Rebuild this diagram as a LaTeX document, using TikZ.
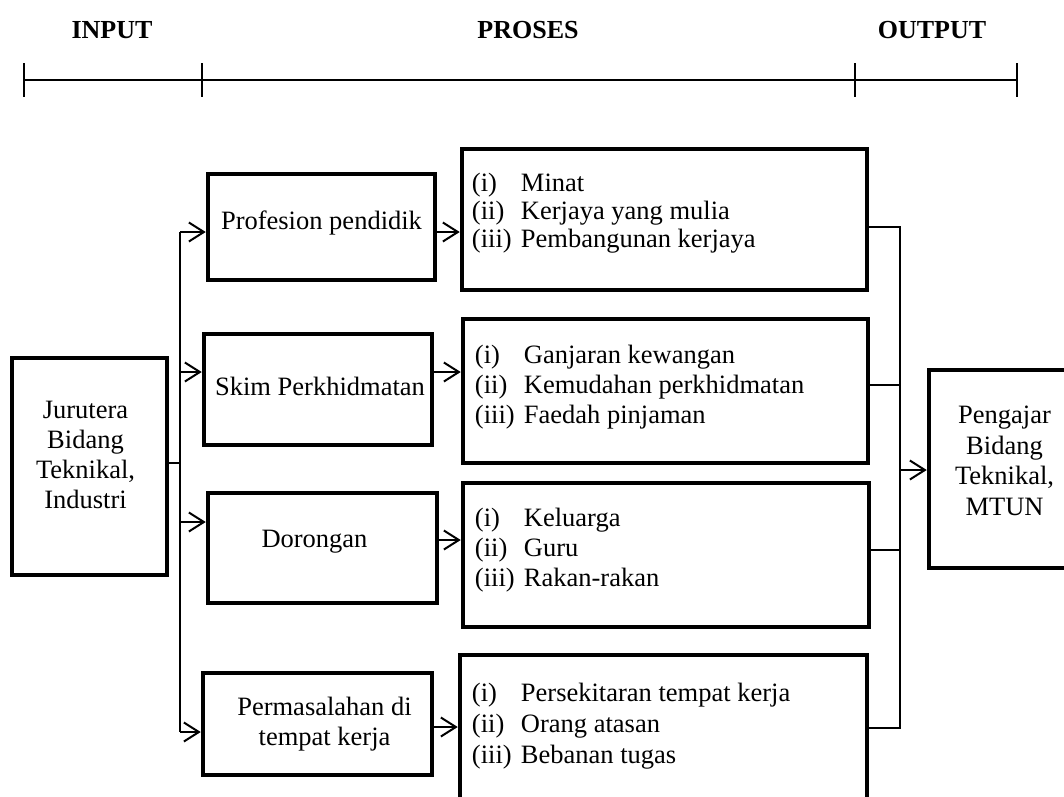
\documentclass[tikz,border=0pt]{standalone}
\usepackage{fontspec}
\setmainfont{Liberation Serif}
\usetikzlibrary{arrows.meta}
\begin{document}
\begin{tikzpicture}[x=1pt,y=-1pt,
  thickbox/.style={draw, line width=4.5pt, inner sep=0pt, line join=miter},
  conn/.style={line width=2pt},
  arr/.style={line width=2pt, -{Straight Barb[length=15pt,width=19pt]}},
  txt/.style={inner sep=0pt, font=\fontsize{26.5}{30}\selectfont, align=center},
  lst/.style={inner sep=0pt, font=\fontsize{26.5}{30}\selectfont, align=left, anchor=west},
  hdr/.style={inner sep=0pt, font=\fontsize{26}{30}\selectfont\bfseries, anchor=base}]
\clip (0,0) rectangle (1064,796);
\fill[white] (0,0) rectangle (1064,796);

% headers and timeline
\node[hdr] (hin) at (112,38) {INPUT};
\node[hdr] (hpr) at (528,38) {PROSES};
\node[hdr] (hout) at (932,38) {OUTPUT};
\coordinate (T1) at (24,80);
\coordinate (T2) at (202,80);
\coordinate (T3) at (855,80);
\coordinate (T4) at (1017,80);
\draw[conn] (T1) -- (T4);
\foreach \t in {T1,T2,T3,T4}{
  \draw[conn] ([yshift=17pt]\t) -- ([yshift=-17pt]\t);
}

% boxes
\node[thickbox, minimum width=155pt, minimum height=217pt] (in) at (89.5,466.5) {};
\node[thickbox, minimum width=227pt, minimum height=106pt] (b1) at (321.5,227) {};
\node[thickbox, minimum width=228pt, minimum height=111pt] (b2) at (318,389.5) {};
\node[thickbox, minimum width=229pt, minimum height=110pt] (b3) at (322.5,548) {};
\node[thickbox, minimum width=229pt, minimum height=102pt] (b4) at (317.5,724) {};
\node[thickbox, minimum width=405pt, minimum height=141pt] (l1) at (664.5,219.5) {};
\node[thickbox, minimum width=405pt, minimum height=144pt] (l2) at (665.5,391) {};
\node[thickbox, minimum width=406pt, minimum height=144pt] (l3) at (666,555) {};
\node[thickbox, minimum width=407pt, minimum height=155pt] (l4) at (663.5,732.5) {};
\node[thickbox, minimum width=151pt, minimum height=198pt] (out) at (1004.5,469) {};

% texts
\node[txt] (tin) at ([xshift=-4pt,yshift=12pt]in.center) {Jurutera\\Bidang\\Teknikal,\\Industri};
\node[txt] (tb1) at ([yshift=4pt]b1.center) {Profesion pendidik};
\node[txt] (tb2) at ([xshift=2pt,yshift=3pt]b2.center) {Skim Perkhidmatan};
\node[txt] (tb3) at ([xshift=-8pt,yshift=6pt]b3.center) {Dorongan};
\node[txt] (tb4) at ([xshift=7pt]b4.center) {Permasalahan di\\tempat kerja};
\node[txt, font=\fontsize{26.5}{30.5}\selectfont] (tout) at ([yshift=8pt]out.center) {Pengajar\\Bidang\\Teknikal,\\MTUN};

\node[lst, font=\fontsize{26.5}{28}\selectfont] (tl1) at ([xshift=12pt,yshift=6.5pt]l1.west)
  {\makebox[49pt][l]{(i)}Minat\\\makebox[49pt][l]{(ii)}Kerjaya yang mulia\\\makebox[49pt][l]{(iii)}Pembangunan kerjaya};
\node[lst] (tl2) at ([xshift=14pt,yshift=4pt]l2.west)
  {\makebox[49pt][l]{(i)}Ganjaran kewangan\\\makebox[49pt][l]{(ii)}Kemudahan perkhidmatan\\\makebox[49pt][l]{(iii)}Faedah pinjaman};
\node[lst] (tl3) at ([xshift=14pt,yshift=5pt]l3.west)
  {\makebox[49pt][l]{(i)}Keluarga\\\makebox[49pt][l]{(ii)}Guru\\\makebox[49pt][l]{(iii)}Rakan-rakan};
\node[lst, font=\fontsize{26.5}{31}\selectfont] (tl4) at ([xshift=14pt,yshift=6.5pt]l4.west)
  {\makebox[49pt][l]{(i)}Persekitaran tempat kerja\\\makebox[49pt][l]{(ii)}Orang atasan\\\makebox[49pt][l]{(iii)}Bebanan tugas};

% left bus
\coordinate (yin) at (0,463);
\coordinate (L1) at (180,232);
\coordinate (L2) at (180,372);
\coordinate (L3) at (180,522);
\coordinate (L4) at (180,732);
\draw[conn] (in.east |- yin) -- (L1 |- yin);
\draw[conn] (L1) -- (L4);
\draw[arr] (L1) -- (L1 -| b1.west);
\draw[arr] (L2) -- (L2 -| b2.west);
\draw[arr] (L3) -- (L3 -| b3.west);
\draw[arr] (L4) -- (L4 -| b4.west);

% box to list
\coordinate (y1) at (0,232);
\coordinate (y2) at (0,372);
\coordinate (y3) at (0,540);
\coordinate (y4) at (0,727);
\draw[arr] (b1.east |- y1) -- (l1.west |- y1);
\draw[arr] (b2.east |- y2) -- (l2.west |- y2);
\draw[arr] (b3.east |- y3) -- (l3.west |- y3);
\draw[arr] (b4.east |- y4) -- (l4.west |- y4);

% right bus
\coordinate (R1) at (900,227);
\coordinate (R2) at (900,385);
\coordinate (R3) at (900,550);
\coordinate (R4) at (900,728);
\coordinate (Ro) at (900,470);
\draw[conn] (l1.east |- R1) -- (R1) -- (R4) -- (l4.east |- R4);
\draw[conn] (l2.east |- R2) -- (R2);
\draw[conn] (l3.east |- R3) -- (R3);
\draw[arr] (Ro) -- (Ro -| out.west);
\end{tikzpicture}
\end{document}
